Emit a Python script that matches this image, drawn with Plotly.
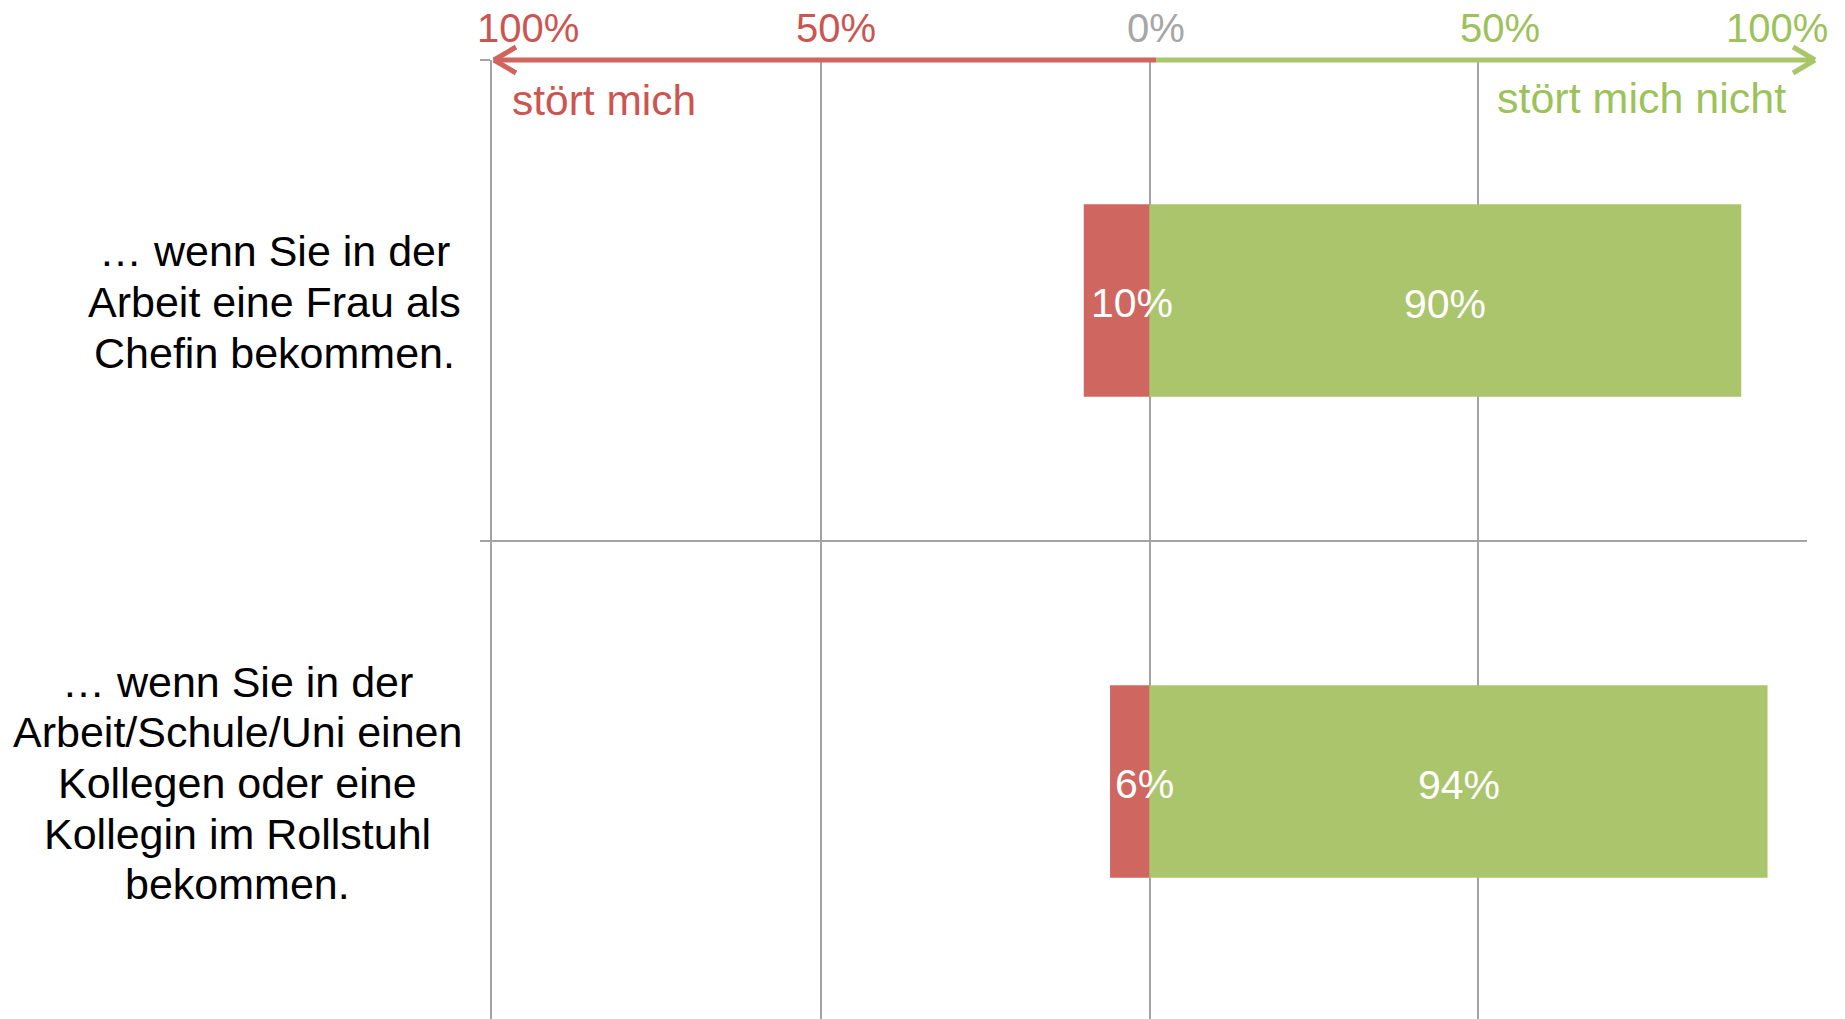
import plotly.graph_objects as go

# ---- data ----
categories = [
    ["… wenn Sie in der", "Arbeit eine Frau als", "Chefin bekommen."],
    ["… wenn Sie in der", "Arbeit/Schule/Uni einen", "Kollegen oder eine",
     "Kollegin im Rollstuhl", "bekommen."],
]
stoert_mich = [10, 6]          # percent, drawn to the left
stoert_mich_nicht = [90, 94]   # percent, drawn to the right
tick_values = [-100, -50, 0, 50, 100]
tick_labels = ["100%", "50%", "0%", "50%", "100%"]
side_labels = ["stört mich", "stört mich nicht"]

# ---- style ----
RED_BAR = "#CF6760"
GREEN_BAR = "#ABC56D"
RED_TXT = "#CB5550"
GREEN_TXT = "#9DC25B"
GRAY_TXT = "#A6A6A6"
GRID = "#A3A3A3"
RED_LINE = "#D0645E"
GREEN_LINE = "#AAC56A"
FONT = "Liberation Sans, Arial, Helvetica, sans-serif"

# page body has an 8px margin -> figure is 8px smaller than the window
W, H = 1837, 1011
ML, MR, MT, MB = 484, 38, 52, 0
cat_px = 481.0
plot_h = H - MT - MB
y_bottom = -0.5 + plot_h / cat_px
XMIN, XMAX = tick_values[0], tick_values[-1]


def px(v):
    """data x -> paper x"""
    return (v - XMIN) / (XMAX - XMIN)


ypos = list(range(len(categories)))

fig = go.Figure()
fig.add_trace(go.Bar(
    y=ypos, x=[-v for v in stoert_mich], orientation="h",
    marker=dict(color=RED_BAR, line=dict(width=0)), width=0.4,
    name=side_labels[0], hoverinfo="skip",
))
fig.add_trace(go.Bar(
    y=ypos, x=stoert_mich_nicht, orientation="h",
    marker=dict(color=GREEN_BAR, line=dict(width=0)), width=0.4,
    name=side_labels[1], hoverinfo="skip",
))

annotations = []
# category labels: centred lines, one annotation per line
label_center_px = [274 - 492, 237 - 492]   # centre of text block rel. to axis
line_pitch = 50.6
for i, lines in enumerate(categories):
    n = len(lines)
    for k, line in enumerate(lines):
        annotations.append(dict(
            xref="paper", yref="y", x=0, y=i, xanchor="center", yanchor="middle",
            xshift=label_center_px[i], yshift=-(k - (n - 1) / 2) * line_pitch - 1.5,
            text=line, showarrow=False,
            font=dict(family=FONT, size=43, color="#000000"),
        ))
# data labels
for i, (r, g) in enumerate(zip(stoert_mich, stoert_mich_nicht)):
    annotations.append(dict(
        xref="x", yref="y", x=-r / 2, y=i, xanchor="center", yanchor="middle",
        xshift=15, yshift=-2, text=f"{r}%", showarrow=False,
        font=dict(family=FONT, size=41, color="#FFFFFF"),
    ))
    annotations.append(dict(
        xref="x", yref="y", x=g / 2, y=i, xanchor="center", yanchor="middle",
        yshift=-3, text=f"{g}%", showarrow=False,
        font=dict(family=FONT, size=41, color="#FFFFFF"),
    ))
# top tick labels
tick_colors = [RED_TXT, RED_TXT, GRAY_TXT, GREEN_TXT, GREEN_TXT]
tick_shift = [36, 15, 6, 22, -30]
for v, lab, c, s in zip(tick_values, tick_labels, tick_colors, tick_shift):
    annotations.append(dict(
        xref="x", yref="paper", x=v, y=1, yshift=32, xshift=s,
        xanchor="center", yanchor="middle", text=lab, showarrow=False,
        font=dict(family=FONT, size=40, color=c),
    ))
# side labels
annotations.append(dict(
    xref="x", yref="paper", x=XMIN, y=1, xshift=18, yshift=-40,
    xanchor="left", yanchor="middle", text=side_labels[0], showarrow=False,
    font=dict(family=FONT, size=42.5, color=RED_TXT),
))
annotations.append(dict(
    xref="x", yref="paper", x=XMAX, y=1, xshift=-19, yshift=-38,
    xanchor="right", yanchor="middle", text=side_labels[1], showarrow=False,
    font=dict(family=FONT, size=43, color=GREEN_TXT),
))

LW = 5
shapes = [
    dict(type="line", xref="paper", yref="paper", x0=px(1), x1=px(XMIN) + 0.001,
         y0=1, y1=1, line=dict(color=RED_LINE, width=LW), layer="above"),
    dict(type="line", xref="paper", yref="paper", x0=px(1), x1=px(XMAX) + 0.005,
         y0=1, y1=1, line=dict(color=GREEN_LINE, width=LW), layer="above"),
]
for sgn in (1, -1):
    shapes.append(dict(
        type="line", xref="paper", yref="paper", xsizemode="pixel", ysizemode="pixel",
        xanchor=px(XMIN), yanchor=1, x0=2, x1=24, y0=0, y1=13 * sgn,
        line=dict(color=RED_LINE, width=LW), layer="above"))
    shapes.append(dict(
        type="line", xref="paper", yref="paper", xsizemode="pixel", ysizemode="pixel",
        xanchor=px(XMAX), yanchor=1, x0=8, x1=-14, y0=0, y1=13 * sgn,
        line=dict(color=GREEN_LINE, width=LW), layer="above"))

fig.update_layout(
    width=W, height=H,
    margin=dict(l=ML, r=MR, t=MT, b=MB, pad=0),
    paper_bgcolor="white", plot_bgcolor="white",
    barmode="relative", showlegend=False,
    annotations=annotations, shapes=shapes,
    xaxis=dict(range=[XMIN, XMAX], tickvals=tick_values, showticklabels=False,
               showgrid=True, gridcolor=GRID, gridwidth=2, zeroline=False,
               showline=False, ticks="", fixedrange=True),
    yaxis=dict(range=[y_bottom, -0.5], tickvals=[-0.5, 0.5, 1.5],
               showticklabels=False, showgrid=True, gridcolor=GRID, gridwidth=2,
               zeroline=False, showline=True, linecolor=GRID, linewidth=2,
               ticks="outside", ticklen=10, tickwidth=2, tickcolor=GRID,
               fixedrange=True),
)

fig.write_html("out.html")
